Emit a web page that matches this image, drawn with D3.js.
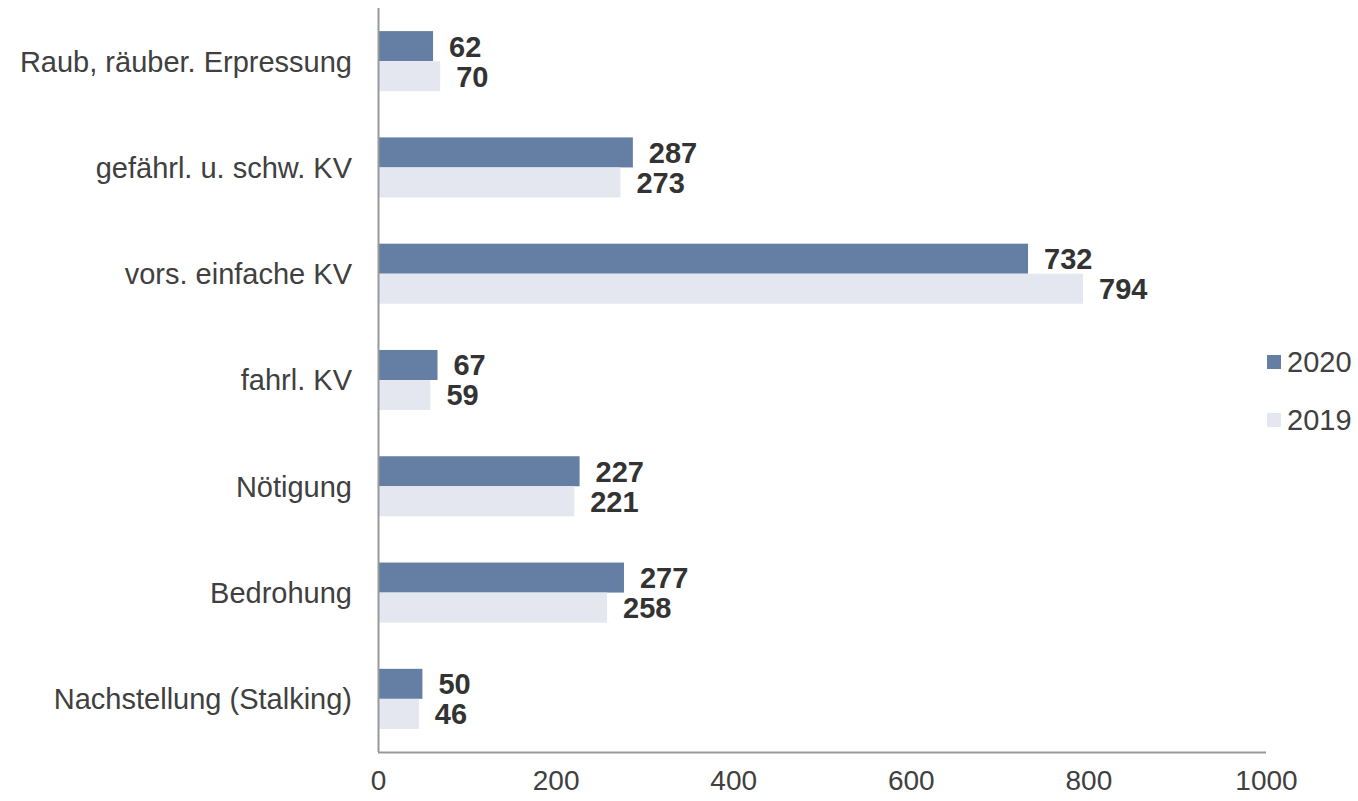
<!DOCTYPE html>
<html><head><meta charset="utf-8">
<script src="https://cdn.jsdelivr.net/npm/d3@7"></script>
<style>body{margin:0;background:#fff}svg{display:block}</style>
</head><body>
<svg id="c" width="1358" height="801"></svg>
<script>
const categories = ["Raub, räuber. Erpressung","gefährl. u. schw. KV","vors. einfache KV","fahrl. KV","Nötigung","Bedrohung","Nachstellung (Stalking)"];
const series = ["2020","2019"];
const values2020 = [62,287,732,67,227,277,50];
const values2019 = [70,273,794,59,221,258,46];
const xTicks = [0,200,400,600,800,1000];
const colors = {"2020":"#657ea3","2019":"#e4e7f0"};

const svg = d3.select("#c");
const x = d3.scaleLinear().domain([0,1000]).range([378,1266]);
const y = d3.scaleBand().domain(categories).range([8,752]).paddingInner(0.435).paddingOuter(0.2175);
const ys = d3.scaleBand().domain(series).range([0,y.bandwidth()]);
const data = {"2020":values2020,"2019":values2019};

const g = svg.append("g");
series.forEach(s=>{
  g.selectAll(null).data(categories).enter().append("rect")
    .attr("x",x(0)).attr("y",c=>y(c)+ys(s))
    .attr("width",(c,i)=>x(data[s][i])-x(0)).attr("height",ys.bandwidth())
    .attr("fill",colors[s]);
  g.selectAll(null).data(categories).enter().append("text")
    .attr("x",(c,i)=>x(data[s][i])+16).attr("y",c=>y(c)+ys(s)+ys.bandwidth()/2)
    .attr("dy","0.36em")
    .attr("font-family","Liberation Sans, Arial, sans-serif").attr("font-weight","bold")
    .attr("font-size",29).attr("fill","#333")
    .text((c,i)=>data[s][i]);
});

// axes lines
svg.append("line").attr("x1",378.5).attr("x2",378.5).attr("y1",8).attr("y2",752).attr("stroke","#999").attr("stroke-width",2);
svg.append("line").attr("x1",378).attr("x2",1266).attr("y1",752.5).attr("y2",752.5).attr("stroke","#999").attr("stroke-width",2);

// category labels
svg.selectAll(null).data(categories).enter().append("text")
  .attr("x",352).attr("y",c=>y(c)+y.bandwidth()/2).attr("dy","0.36em")
  .attr("text-anchor","end").attr("font-family","Liberation Sans, Arial, sans-serif")
  .attr("font-size",29).attr("fill","#404040").text(c=>c);

// x tick labels
const xa = svg.append("g").attr("transform","translate(0,752)")
  .call(d3.axisBottom(x).tickValues(xTicks).tickFormat(d3.format("d")).tickSize(0).tickPadding(18));
xa.select(".domain").remove();
xa.selectAll("text").attr("font-family","Liberation Sans, Arial, sans-serif")
  .attr("font-size",28).attr("fill","#404040");

// legend
const lg = svg.append("g");
series.forEach((s,i)=>{
  const yy = 362 + i*58;
  lg.append("rect").attr("x",1267).attr("y",yy-7).attr("width",14).attr("height",14).attr("fill",colors[s]);
  lg.append("text").attr("x",1287).attr("y",yy).attr("dy","0.36em")
    .attr("font-family","Liberation Sans, Arial, sans-serif").attr("font-size",29).attr("fill","#404040").text(s);
});
</script>
</body></html>
